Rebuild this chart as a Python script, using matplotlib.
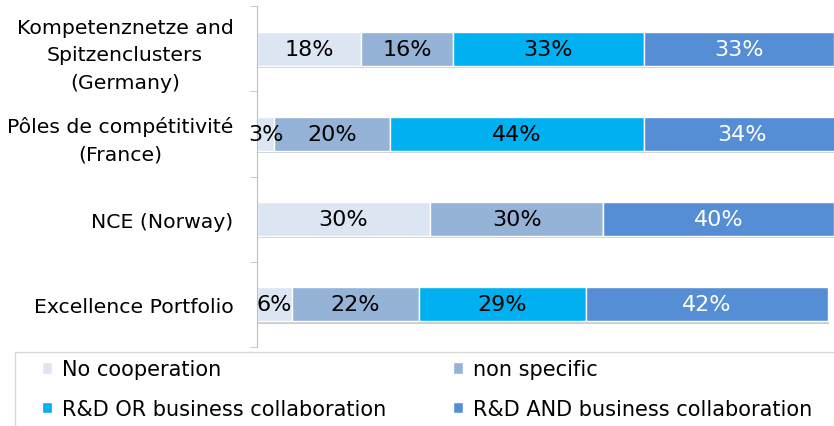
import matplotlib
matplotlib.use('Agg')
import matplotlib.pyplot as plt
import matplotlib.patheffects as pe
import matplotlib.transforms as mtransforms
from matplotlib.patches import Rectangle
import numpy as np

plt.rcParams['font.family'] = ['DejaVu Sans']

categories = ['Kompetenznetze and\nSpitzenclusters\n(Germany)',
              'Pôles de compétitivité\n(France)',
              'NCE (Norway)',
              'Excellence Portfolio']
series = ['No cooperation', 'non specific',
          'R&D OR business collaboration', 'R&D AND business collaboration']
no_coop = [18, 3, 30, 6]
non_spec = [16, 20, 30, 22]
rd_or = [33, 44, 0, 29]
rd_and = [33, 34, 40, 42]

colors = ['#DCE6F2', '#95B3D7', '#00B0F0', '#558ED5']
text_colors = ['black', 'black', 'black', 'white']

fig = plt.figure(figsize=(8.34, 4.27), dpi=100)
ax = fig.add_axes([257/834, 1 - 348/427, 1 - 257/834, 341/427])

y = np.arange(len(categories))[::-1]
left = np.zeros(len(categories))
shadow = [pe.SimplePatchShadow(offset=(0.5, -1.5), shadow_rgbFace='#999999', alpha=0.5), pe.Normal()]
handles = []
for vals, name, c, tc in zip([no_coop, non_spec, rd_or, rd_and], series, colors, text_colors):
    vals = np.array(vals, dtype=float)
    bars = ax.barh(y, vals, left=left, height=0.4, color=c, edgecolor='white',
                   linewidth=1, label=name, path_effects=shadow)
    handles.append(bars)
    for yi, v, l in zip(y, vals, left):
        if v > 0:
            ax.text(l + v / 2, yi, f'{v:.0f}%', ha='center', va='center',
                    fontsize=16, color=tc)
    left += vals

ax.set_xlim(0, 100)
ax.set_ylim(-0.5, 3.5)
ax.set_yticks(y)
ax.set_yticklabels(categories, fontsize=14.7, linespacing=1.55)
for lbl in ax.get_yticklabels():
    lbl.set_multialignment('center')
    if '\n' in lbl.get_text():
        # nudge multi-line labels up a little
        lbl.set_transform(lbl.get_transform() +
                          mtransforms.ScaledTranslation(0, 4/72, fig.dpi_scale_trans))
ax.set_yticks(np.arange(-0.5, 4, 1), minor=True)
ax.tick_params(axis='y', which='major', length=0, pad=17)
ax.tick_params(axis='y', which='minor', length=5, color='#BFBFBF')
ax.set_xticks([])
for s in ['top', 'right', 'bottom']:
    ax.spines[s].set_visible(False)
ax.spines['left'].set_color('#BFBFBF')

# legend box
fig.patches.append(Rectangle((15/834, -0.01), 1, 78/427, transform=fig.transFigure,
                             facecolor='none', edgecolor='#D9D9D9', linewidth=1))
order = [0, 2, 1, 3]
leg = fig.legend([handles[i] for i in order], [series[i] for i in order],
                 loc='center left', bbox_to_anchor=(42/834, 1 - 390/427),
                 ncol=2, fontsize=15, frameon=False,
                 handlelength=0.5, handleheight=0.5, handletextpad=0.45,
                 labelspacing=0.95, columnspacing=3.2, borderaxespad=0, borderpad=0)
for h in leg.legend_handles:
    h.set_path_effects([])

fig.savefig('out.png', dpi=100)
